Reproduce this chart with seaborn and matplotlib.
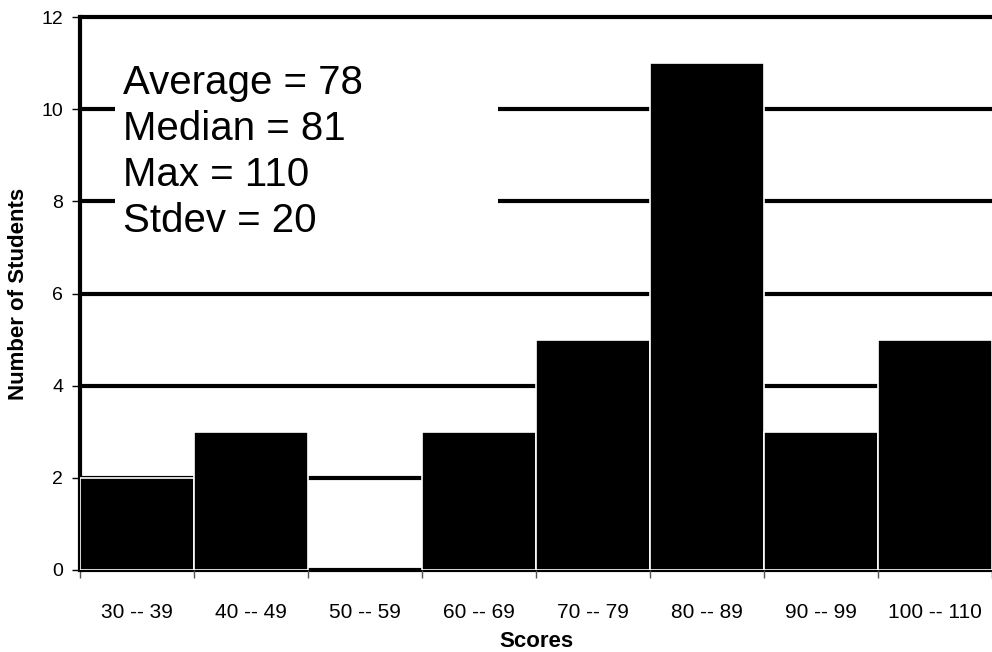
import matplotlib
matplotlib.use("Agg")
import matplotlib.pyplot as plt
from matplotlib.patches import Rectangle
import seaborn as sns
import pandas as pd

# score bins and how many students fell in each
score_bins = ['30 -- 39', '40 -- 49', '50 -- 59', '60 -- 69',
              '70 -- 79', '80 -- 89', '90 -- 99', '100 -- 110']
num_students = [2, 3, 0, 3, 5, 11, 3, 5]

stats_lines = ['Average = 78', 'Median = 81', 'Max = 110', 'Stdev = 20']

df = pd.DataFrame({'Scores': score_bins, 'Number of Students': num_students})

sns.set_style('white')
plt.rcParams['font.family'] = ['Liberation Sans', 'DejaVu Sans']
plt.rcParams['text.color'] = 'black'
plt.rcParams['xtick.color'] = 'black'
plt.rcParams['ytick.color'] = 'black'
plt.rcParams['axes.labelcolor'] = 'black'

fig = plt.figure(figsize=(9.92, 6.52), dpi=100)
ax = fig.add_axes([80 / 992, 82 / 652, 912 / 992, 553 / 652])

sns.barplot(data=df, x='Scores', y='Number of Students', color='black',
            saturation=1, width=1.0, edgecolor='white', linewidth=1.2,
            ax=ax, zorder=3)
# empty bins get no white outline, so the zero line stays visible
for p in ax.patches:
    if p.get_height() == 0:
        p.set_edgecolor('none')

ax.set_xlim(-0.5, len(score_bins) - 0.5)
ax.set_ylim(0, 12)
yticks = list(range(0, 13, 2))
ax.set_yticks(yticks)

# black horizontal gridlines behind the bars
ax.grid(False)
for yv in yticks:
    ax.axhline(yv, color='black', linewidth=3, zorder=0.5, clip_on=False)

# tick marks sit at the bin edges, labels at the bin centres
ax.set_xticks([i - 0.5 for i in range(len(score_bins) + 1)], minor=True)
ax.tick_params(axis='x', which='major', length=0, pad=24, labelsize=15)
ax.tick_params(axis='x', which='minor', length=6, width=1, color='#555555',
               direction='out', bottom=True)
ax.tick_params(axis='y', length=6, width=1, color='black', left=True,
               direction='out', labelsize=14, pad=6)

for side in ['top', 'right']:
    ax.spines[side].set_visible(False)
ax.spines['left'].set_color('black')
ax.spines['left'].set_linewidth(3)
ax.spines['bottom'].set_color('#555555')
ax.spines['bottom'].set_linewidth(1)
ax.spines['bottom'].set_zorder(0.4)

ax.set_xlabel('Scores', fontsize=16, fontweight='bold')
ax.set_ylabel('Number of Students', fontsize=16, fontweight='bold')
ax.xaxis.set_label_coords(0.5, -0.110)
ax.yaxis.set_label_coords(-0.056, 0.5)

# white box with the summary statistics
ax.add_patch(Rectangle((35 / 912, 0.58), 383 / 912, 0.36, transform=ax.transAxes,
                       facecolor='white', edgecolor='none', zorder=2.5))
ax.text(43 / 912, 0.915, '\n'.join(stats_lines), transform=ax.transAxes,
        fontsize=29, va='top', ha='left', linespacing=1.27, zorder=4)

fig.savefig('out.png', dpi=100)
